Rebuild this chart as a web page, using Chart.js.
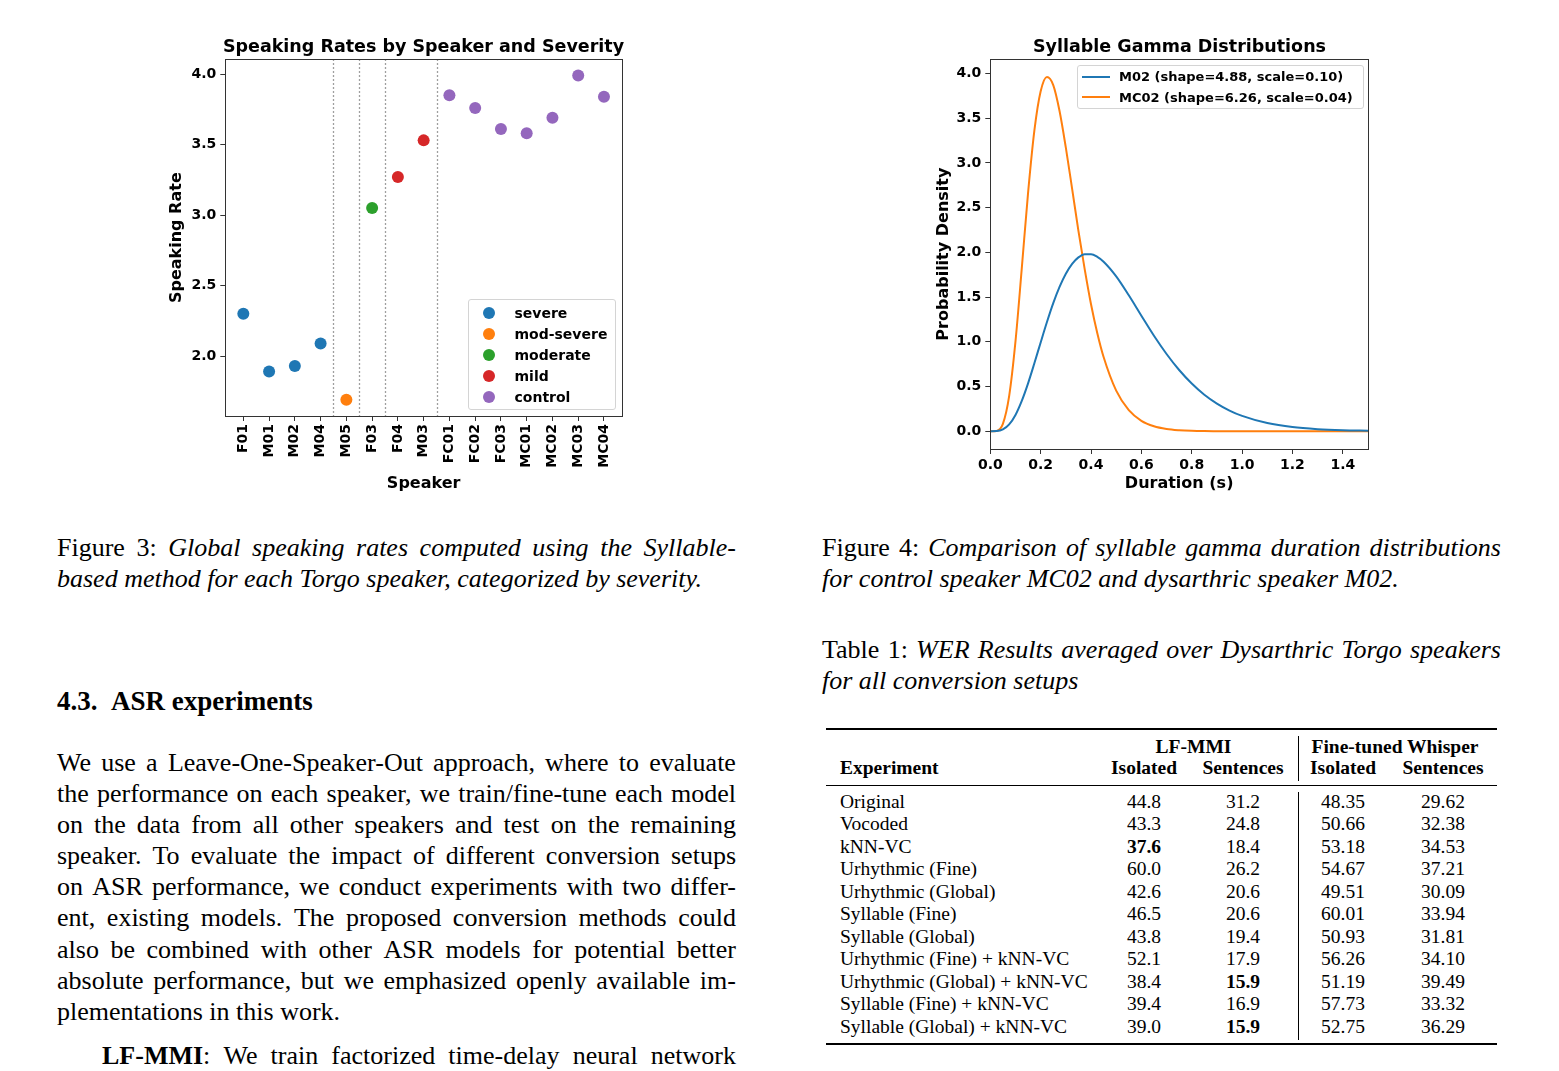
<!DOCTYPE html>
<html>
<head>
<meta charset="utf-8">
<script src="https://cdn.jsdelivr.net/npm/chart.js@4.4.0/dist/chart.umd.min.js"></script>
<style>
  body { margin: 0; width: 1559px; height: 1071px; background: #fff; position: relative; overflow: hidden;
         font-family: 'Liberation Serif', 'Times New Roman', serif; color: #000; }
  .box { position: absolute; }
  .ln { position: absolute; font-size: 26px; line-height: 31px; white-space: pre; }
  .jl { display: flex; justify-content: space-between; }
  .it { font-style: italic; }
  .bd { font-weight: bold; }
  .tb { position: absolute; font-size: 19.5px; line-height: 22px; white-space: pre; }
  .rule { position: absolute; background: #000; }
  .ctitle { position: absolute; width: 500px; text-align: center; font-family: 'DejaVu Sans', sans-serif;
            font-weight: bold; font-size: 17.5px; line-height: 21px; white-space: pre; }
  .lg { position: absolute; background: rgba(255,255,255,0.85); border: 1px solid #d4d4d4; border-radius: 3px;
        font-family: 'DejaVu Sans', sans-serif; font-weight: bold; }
  .lg div { position: absolute; white-space: pre; }
</style>
</head>
<body>

<div class="box" style="left:163px; top:30px; width:477px; height:467px;"><canvas id="chart-rates"></canvas></div>
<div class="box" style="left:930px; top:30px; width:450px; height:467px;"><canvas id="chart-gamma"></canvas></div>
<div class="ctitle" style="left:173.5px; top:36px;">Speaking Rates by Speaker and Severity</div>
<div class="ctitle" style="left:929.5px; top:36px;">Syllable Gamma Distributions</div>
<div class="lg" id="legend-rates" style="left:468px; top:299px; width:146px; height:109px;"></div>
<div class="lg" id="legend-gamma" style="left:1077px; top:65px; width:285px; height:42px;"></div>
<div id="text"></div>

<script>
// ---- Figure 3 data ----
const speakers = ['F01', 'M01', 'M02', 'M04', 'M05', 'F03', 'F04', 'M03', 'FC01', 'FC02', 'FC03', 'MC01', 'MC02', 'MC03', 'MC04'];
const speakingRates = [2.30, 1.89, 1.93, 2.09, 1.69, 3.05, 3.27, 3.53, 3.85, 3.76, 3.61, 3.58, 3.69, 3.99, 3.84];
const speakerSeverity = ['severe', 'severe', 'severe', 'severe', 'mod-severe', 'moderate', 'mild', 'mild',
  'control', 'control', 'control', 'control', 'control', 'control', 'control'];
const severityLevels = ['severe', 'mod-severe', 'moderate', 'mild', 'control'];
const severityColors = ['#1f77b4', '#ff7f0e', '#2ca02c', '#d62728', '#9467bd'];
const groupBoundaries = [3.5, 4.5, 5.5, 7.5];
const rateTicks = [2.0, 2.5, 3.0, 3.5, 4.0];

// ---- Figure 4 data ----
const durations = [0, 0.025, 0.05, 0.075, 0.1, 0.125, 0.15, 0.175, 0.2, 0.225, 0.25, 0.275, 0.3, 0.325, 0.35,
  0.375, 0.4, 0.425, 0.45, 0.5, 0.55, 0.6, 0.65, 0.7, 0.75, 0.8, 0.85, 0.9, 0.95, 1.0, 1.1, 1.2, 1.3, 1.4, 1.5];
const densityM02 = [0, 0.002, 0.021, 0.077, 0.183, 0.340, 0.536, 0.760, 0.993, 1.221, 1.432, 1.614, 1.761, 1.872,
  1.944, 1.980, 1.980, 1.950, 1.896, 1.732, 1.520, 1.292, 1.068, 0.864, 0.685, 0.534, 0.409, 0.310, 0.232, 0.172,
  0.092, 0.047, 0.024, 0.012, 0.006];
const densityMC02 = [0, 0.004, 0.083, 0.395, 1.004, 1.821, 2.664, 3.36, 3.80, 3.96, 3.87, 3.58, 3.17, 2.71,
  2.24, 1.81, 1.42, 1.096, 0.830, 0.454, 0.236, 0.117, 0.056, 0.026, 0.012, 0.005, 0.002, 0.001, 0.0004, 0.0002,
  0, 0, 0, 0, 0];
const gammaLabels = ['M02 (shape=4.88, scale=0.10)', 'MC02 (shape=6.26, scale=0.04)'];
const gammaColors = ['#1f77b4', '#ff7f0e'];
const durationTicks = [0, 0.2, 0.4, 0.6, 0.8, 1.0, 1.2, 1.4];
const densityTicks = [0, 0.5, 1.0, 1.5, 2.0, 2.5, 3.0, 3.5, 4.0];

// ---- Table 1 ----
const experiments = ['Original', 'Vocoded', 'kNN-VC', 'Urhythmic (Fine)', 'Urhythmic (Global)', 'Syllable (Fine)',
  'Syllable (Global)', 'Urhythmic (Fine) + kNN-VC', 'Urhythmic (Global) + kNN-VC', 'Syllable (Fine) + kNN-VC',
  'Syllable (Global) + kNN-VC'];
const lfIsolated = ['44.8', '43.3', '37.6', '60.0', '42.6', '46.5', '43.8', '52.1', '38.4', '39.4', '39.0'];
const lfSentences = ['31.2', '24.8', '18.4', '26.2', '20.6', '20.6', '19.4', '17.9', '15.9', '16.9', '15.9'];
const whIsolated = ['48.35', '50.66', '53.18', '54.67', '49.51', '60.01', '50.93', '56.26', '51.19', '57.73', '52.75'];
const whSentences = ['29.62', '32.38', '34.53', '37.21', '30.09', '33.94', '31.81', '34.10', '39.49', '33.32', '36.29'];
const boldCells = ['2-0', '8-1', '10-1'];

// ---- Global defaults ----
Chart.defaults.font.family = "'DejaVu Sans', sans-serif";
Chart.defaults.font.weight = 'bold';
Chart.defaults.color = '#000';
Chart.defaults.animation = false;

const axisGrid = { drawOnChartArea: false, tickLength: 5, color: '#333' };

// box round the plot area, like matplotlib spines
const framePlugin = {
  id: 'frame',
  afterDraw(chart) {
    const { ctx, chartArea: a } = chart;
    ctx.save();
    ctx.strokeStyle = '#333';
    ctx.lineWidth = 1;
    ctx.strokeRect(Math.round(a.left) + 0.5, Math.round(a.top) + 0.5,
      Math.round(a.right - a.left), Math.round(a.bottom - a.top));
    ctx.restore();
  }
};

// dotted severity group separators
const separatorPlugin = {
  id: 'separators',
  beforeDatasetsDraw(chart) {
    const { ctx, chartArea: a, scales: { x } } = chart;
    ctx.save();
    ctx.strokeStyle = '#808080';
    ctx.lineWidth = 1.3;
    ctx.setLineDash([1.5, 2.5]);
    groupBoundaries.forEach(b => {
      const px = Math.round(x.getPixelForValue(b)) + 0.5;
      ctx.beginPath();
      ctx.moveTo(px, a.top);
      ctx.lineTo(px, a.bottom);
      ctx.stroke();
    });
    ctx.restore();
  }
};

// ============================================================
//  Figure 3 · speaking rates (scatter)
// ============================================================
const rateDatasets = severityLevels.map((lvl, i) => ({
  label: lvl,
  data: speakers.map((s, j) => ({ x: j, y: speakingRates[j] })).filter((p, j) => speakerSeverity[j] === lvl),
  backgroundColor: severityColors[i],
  borderWidth: 0,
  pointRadius: 6,
}));

new Chart(document.getElementById('chart-rates'), {
  type: 'scatter',
  data: { datasets: rateDatasets },
  plugins: [separatorPlugin, framePlugin],
  options: {
    responsive: true,
    maintainAspectRatio: false,
    layout: { padding: { left: 0, right: 18, top: 29.3, bottom: 0 } },
    plugins: { legend: { display: false }, tooltip: { enabled: false } },
    scales: {
      x: {
        type: 'linear', min: -0.7, max: 14.7,
        afterBuildTicks: s => { s.ticks = speakers.map((_, i) => ({ value: i })); },
        afterFit: s => { s.height = 81; },
        ticks: { autoSkip: false, minRotation: 90, maxRotation: 90, padding: 3, font: { size: 14 },
          callback: v => speakers[v] },
        grid: axisGrid,
        border: { color: '#333' },
        title: { display: true, text: 'Speaker', font: { size: 16 }, padding: { top: 4, bottom: 4 } }
      },
      y: {
        min: 1.575, max: 4.105,
        afterBuildTicks: s => { s.ticks = rateTicks.map(v => ({ value: v })); },
        afterFit: s => { s.width = 62.3; },
        ticks: { padding: 4, font: { size: 14 }, callback: v => v.toFixed(1) },
        grid: axisGrid,
        border: { color: '#333' },
        title: { display: true, text: 'Speaking Rate', font: { size: 16 }, padding: { top: 4, bottom: 4 } }
      }
    }
  }
});

// ============================================================
//  Figure 4 · gamma duration densities (line)
// ============================================================
new Chart(document.getElementById('chart-gamma'), {
  type: 'line',
  data: {
    datasets: [densityM02, densityMC02].map((vals, i) => ({
      label: gammaLabels[i],
      data: durations.map((d, j) => ({ x: d, y: vals[j] })),
      borderColor: gammaColors[i],
      borderWidth: 2,
      pointRadius: 0,
      fill: false,
      cubicInterpolationMode: 'monotone',
    }))
  },
  plugins: [framePlugin],
  options: {
    responsive: true,
    maintainAspectRatio: false,
    layout: { padding: { left: 0, right: 12, top: 29.3, bottom: 0 } },
    plugins: { legend: { display: false }, tooltip: { enabled: false } },
    scales: {
      x: {
        type: 'linear', min: 0, max: 1.5,
        afterBuildTicks: s => { s.ticks = durationTicks.map(v => ({ value: v })); },
        afterFit: s => { s.height = 48; },
        ticks: { padding: 3, font: { size: 14 }, maxRotation: 0, callback: v => v.toFixed(1) },
        grid: axisGrid,
        border: { color: '#333' },
        title: { display: true, text: 'Duration (s)', font: { size: 16 }, padding: { top: 4, bottom: 4 } }
      },
      y: {
        min: -0.198, max: 4.158,
        afterBuildTicks: s => { s.ticks = densityTicks.map(v => ({ value: v })); },
        afterFit: s => { s.width = 60.3; },
        ticks: { padding: 4, font: { size: 14 }, callback: v => v.toFixed(1) },
        grid: axisGrid,
        border: { color: '#333' },
        title: { display: true, text: 'Probability Density', font: { size: 16 }, padding: { top: 4, bottom: 4 } }
      }
    }
  }
});

// ---- in-plot legends ----
const lgRates = document.getElementById('legend-rates');
severityLevels.forEach((lvl, i) => {
  const cy = 12.7 + i * 21;
  lgRates.insertAdjacentHTML('beforeend',
    `<div style="left:14px; top:${cy - 6}px; width:12px; height:12px; border-radius:50%; background:${severityColors[i]}"></div>` +
    `<div style="left:45.5px; top:${cy - 9}px; font-size:14px; line-height:18px;">${lvl}</div>`);
});
const lgGamma = document.getElementById('legend-gamma');
gammaLabels.forEach((lbl, i) => {
  const cy = 10.5 + i * 20.7;
  lgGamma.insertAdjacentHTML('beforeend',
    `<div style="left:4px; top:${cy - 1}px; width:28px; height:2px; background:${gammaColors[i]}"></div>` +
    `<div style="left:41px; top:${cy - 8.5}px; font-size:13px; line-height:17px;">${lbl}</div>`);
});

// ---- paper text ----
const textRoot = document.getElementById('text');
function addLine(x, y, w, segs, justify, size) {
  const div = document.createElement('div');
  div.className = 'ln' + (justify ? ' jl' : '');
  div.style.left = x + 'px';
  div.style.top = (y - 16) + 'px';
  if (size) div.style.fontSize = size + 'px';
  if (justify) div.style.width = w + 'px';
  let html = '';
  segs.forEach(([txt, cls], k) => {
    if (justify) {
      txt.split(' ').forEach(wd => { html += `<span class="${cls}">${wd}</span>`; });
    } else {
      html += `<span class="${cls}">${txt}</span>` + (k < segs.length - 1 ? ' ' : '');
    }
  });
  div.innerHTML = html;
  textRoot.appendChild(div);
}

addLine(57, 548, 679, [['Figure 3:', ''], ['Global speaking rates computed using the Syllable-', 'it']], true);
addLine(57, 579, 679, [['based method for each Torgo speaker, categorized by severity.', 'it']], false);
addLine(822, 548, 679, [['Figure 4:', ''], ['Comparison of syllable gamma duration distributions', 'it']], true);
addLine(822, 579, 679, [['for control speaker MC02 and dysarthric speaker M02.', 'it']], false);
addLine(822, 650, 679, [['Table 1:', ''], ['WER Results averaged over Dysarthric Torgo speakers', 'it']], true);
addLine(822, 681, 679, [['for all conversion setups', 'it']], false);
addLine(57, 702, 0, [['4.3.\u2002ASR experiments', 'bd']], false, 27);

const bodyLines = [
  'We use a Leave-One-Speaker-Out approach, where to evaluate',
  'the performance on each speaker, we train/fine-tune each model',
  'on the data from all other speakers and test on the remaining',
  'speaker. To evaluate the impact of different conversion setups',
  'on ASR performance, we conduct experiments with two differ-',
  'ent, existing models. The proposed conversion methods could',
  'also be combined with other ASR models for potential better',
  'absolute performance, but we emphasized openly available im-',
];
const bodyY = [763, 794, 825, 856, 887, 918, 950, 981];
bodyLines.forEach((t, i) => addLine(57, bodyY[i], 679, [[t, '']], true));
addLine(57, 1012, 0, [['plementations in this work.', '']], false);
addLine(102, 1056, 634, [['<b>LF-MMI</b>: We train factorized time-delay neural network', '']], true);

// ---- Table 1 ----
function cell(txt, cx, cy, bold, align) {
  const d = document.createElement('div');
  d.className = 'tb' + (bold ? ' bd' : '');
  d.style.top = (cy - 11) + 'px';
  if (align === 'left') { d.style.left = cx + 'px'; }
  else { d.style.left = (cx - 100) + 'px'; d.style.width = '200px'; d.style.textAlign = 'center'; }
  d.textContent = txt;
  textRoot.appendChild(d);
}
function rule(x, y, w, h) {
  const d = document.createElement('div');
  d.className = 'rule';
  Object.assign(d.style, { left: x + 'px', top: y + 'px', width: w + 'px', height: h + 'px' });
  textRoot.appendChild(d);
}
const colX = [1144, 1243, 1343, 1443];
rule(826, 727.5, 671, 2);
rule(826, 784.5, 671, 1);
rule(826, 1043, 671, 2);
rule(1298, 736, 1, 45);
rule(1298, 792, 1, 248);
cell('LF-MMI', 1193.5, 746.5, true);
cell('Fine-tuned Whisper', 1395, 746.5, true);
cell('Experiment', 840, 768.3, true, 'left');
['Isolated', 'Sentences', 'Isolated', 'Sentences'].forEach((h, i) => cell(h, colX[i], 768.3, true));
experiments.forEach((e, r) => {
  const cy = 801.7 + r * 22.53;
  cell(e, 840, cy, false, 'left');
  [lfIsolated, lfSentences, whIsolated, whSentences].forEach((col, c) =>
    cell(col[r], colX[c], cy, boldCells.includes(r + '-' + c)));
});
</script>
</body>
</html>
